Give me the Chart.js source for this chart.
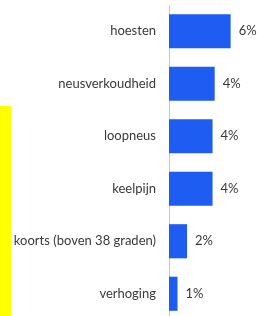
<!DOCTYPE html>
<html>
<head>
<meta charset="utf-8">
<script src="https://cdn.jsdelivr.net/npm/chart.js@4"></script>
<style>
  html, body { margin:0; padding:0; background:#fff; overflow:hidden; }
  #wrap { position:relative; width:257px; height:320px; }
  #strip { position:absolute; left:0; top:106px; width:11px; height:214px; background:#ffff00; }
  canvas { position:absolute; left:0; top:0; }
</style>
</head>
<body>
<div id="wrap">
  <div id="strip"></div>
  <canvas id="c" width="257" height="320"></canvas>
</div>
<script>
var labels = ['hoesten','neusverkoudheid','loopneus','keelpijn','koorts (boven 38 graden)','verhoging']
var values = [5.8, 4.3, 4.1, 4.1, 1.7, 0.8]
var valueText = ['6%','4%','4%','4%','2%','1%']

// percent labels next to each bar
var barLabels = {
    id:'barLabels',
    afterDatasetsDraw(chart){
        let ctx = chart.ctx
        let meta = chart.getDatasetMeta(0)
        ctx.save()
        ctx.font = '13px Lato'
        ctx.fillStyle = '#3a3a3a'
        ctx.textAlign = 'left'
        ctx.textBaseline = 'middle'
        meta.data.forEach((bar,i)=>{
            ctx.fillText(valueText[i], bar.x + 8, bar.y)
        })
        ctx.restore()
    }
}

var chart = new Chart(document.getElementById('c').getContext('2d'),{
    type:'bar',
    plugins:[barLabels],
    data:{
        labels:labels,
        datasets:[{
            data:values,
            backgroundColor:'#1f5cf2',
            borderWidth:0,
            categoryPercentage:0.65,
            barPercentage:1
        }]
    },
    options:{
        indexAxis:'y',
        responsive:false,
        animation:false,
        layout:{ padding:{ top:5, right:3, bottom:0, left:0 } },
        plugins:{
            legend:{ display:false },
            tooltip:{ enabled:false }
        },
        scales:{
            x:{
                display:false,
                min:0,
                max:8
            },
            y:{
                afterFit:(scale)=>{
                    scale.width = 169
                    scale.paddingTop = 0
                    scale.paddingBottom = 0
                },
                grid:{ display:false, drawTicks:false },
                border:{ display:true, color:'#c8c8c8', width:1 },
                ticks:{
                    padding:13,
                    color:'#3a3a3a',
                    font:{ family:'Lato', size:13 }
                }
            }
        }
    }
})
</script>
</body>
</html>
